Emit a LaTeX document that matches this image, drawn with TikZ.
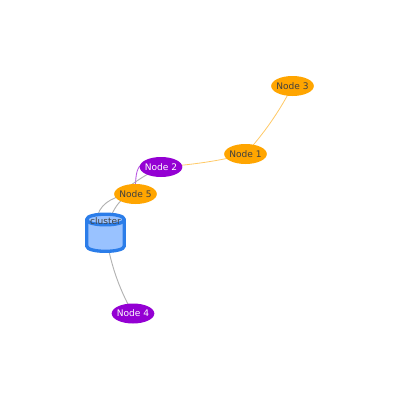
\documentclass[tikz,border=0pt]{standalone}
\usepackage{fontspec}
\setmainfont{DejaVu Sans}
\usetikzlibrary{backgrounds,shapes.geometric}
\definecolor{orangeN}{HTML}{FFA500}
\definecolor{purpleN}{HTML}{9400D3}
\definecolor{cylB}{HTML}{2B7DE9}
\definecolor{cylF}{HTML}{99C2FF}
\tikzset{
 x=0.75pt,y=-0.75pt,
 nodebase/.style={ellipse,minimum width=32pt,minimum height=15pt,inner xsep=-3pt,inner ysep=0pt,font=\fontsize{6.8}{8}\selectfont},
 orangenode/.style={nodebase,fill=orangeN,text=black!75},
 purplenode/.style={nodebase,fill=purpleN,text=white},
 cyl/.style={draw=cylB,line width=2.5pt,fill=cylF},
 cylanchor/.style={minimum width=28.5pt,minimum height=28pt,inner sep=0pt},
 cyltext/.style={font=\fontsize{6.8}{8}\selectfont,text=black!75},
 oedge/.style={draw=orangeN!60,line width=0.6pt},
 gedge/.style={draw=black!30,line width=0.7pt},
 pedge/.style={draw=purpleN!65,line width=0.65pt},
}
\begin{document}
\begin{tikzpicture}
\useasboundingbox (0,0) rectangle (400,400);
\node[orangenode] (n3) at (292.5,86) {Node 3};
\node[orangenode] (n1) at (245.5,154) {Node 1};
\node[purplenode] (n2) at (161,167) {Node 2};
\node[orangenode] (n5) at (135.5,194) {Node 5};
\node[purplenode] (n4) at (133,313.5) {Node 4};
\node[cylanchor] (cluster) at (105.5,232.5) {};
\draw[cyl] (86.7,219.5) .. controls (86.7,212.4) and (124.3,212.4) .. (124.3,219.5) -- (124.3,246) .. controls (124.3,253.1) and (86.7,253.1) .. (86.7,246) -- cycle;
\draw[cyl,fill=none] (86.7,219.5) .. controls (86.7,226.6) and (124.3,226.6) .. (124.3,219.5);
\node[cyltext] (clabel) at (105.5,221) {cluster};
\begin{scope}[on background layer]
\draw[oedge] (n1.center) .. controls (265,132) and (279,112) .. (n3.center);
\draw[oedge] (n2.center) .. controls (190,165) and (220,161) .. (n1.center);
\draw[pedge] (n2.center) .. controls (137,155) and (135,170) .. (n5.center);
\draw[gedge] (n2.center) .. controls (135,180) and (122,192) .. (115,198) .. controls (104,202) and (88,216) .. (cluster.center);
\draw[gedge] (n5.center) .. controls (122,196) and (113,205) .. (cluster.center);
\draw[gedge] (cluster.center) .. controls (110,262) and (118,287) .. (n4.center);
\end{scope}
\end{tikzpicture}
\end{document}
